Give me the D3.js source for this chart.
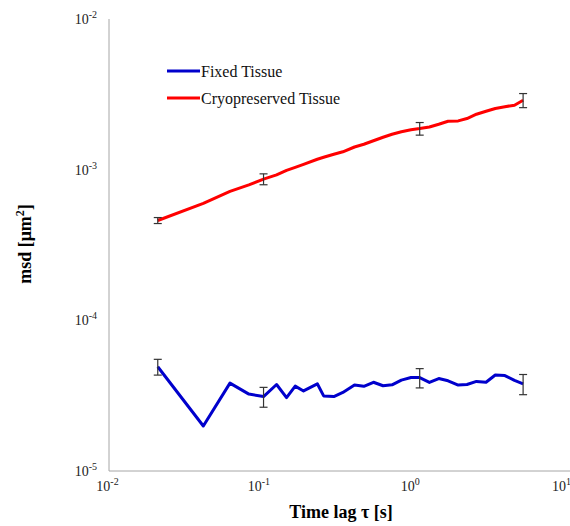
<!DOCTYPE html>
<html>
<head>
<meta charset="utf-8">
<script src="https://cdn.jsdelivr.net/npm/d3@7"></script>
<style>
  html, body { margin: 0; padding: 0; background: #fff; }
  svg { display: block; font-family: "Liberation Serif", "Times New Roman", serif; }
</style>
</head>
<body>
<svg id="chart" width="570" height="526"></svg>
<script>
// Time lag values (s), shared by both series
const lagTimes = [0.021, 0.042, 0.063, 0.084, 0.105, 0.128, 0.149, 0.170, 0.193, 0.238,
  0.262, 0.306, 0.351, 0.419, 0.483, 0.559, 0.647, 0.742, 0.855, 0.99,
  1.13, 1.31, 1.51, 1.74, 2.03, 2.32, 2.68, 3.10, 3.57, 4.13, 4.78, 5.45];

// Mean squared displacement, fixed tissue (µm²)
const fixedMsd = [4.92e-5, 1.99e-5, 3.83e-5, 3.24e-5, 3.12e-5, 3.75e-5, 3.07e-5, 3.66e-5, 3.40e-5, 3.79e-5,
  3.15e-5, 3.12e-5, 3.32e-5, 3.72e-5, 3.65e-5, 3.88e-5, 3.68e-5, 3.73e-5, 4.01e-5, 4.17e-5,
  4.17e-5, 3.87e-5, 4.11e-5, 3.97e-5, 3.72e-5, 3.75e-5, 3.93e-5, 3.88e-5, 4.34e-5, 4.30e-5, 3.99e-5, 3.79e-5];

// Mean squared displacement, cryopreserved tissue (µm²)
const cryoMsd = [4.60e-4, 5.97e-4, 7.18e-4, 7.93e-4, 8.66e-4, 9.24e-4, 9.90e-4, 1.036e-3, 1.085e-3, 1.172e-3,
  1.208e-3, 1.265e-3, 1.314e-3, 1.414e-3, 1.474e-3, 1.555e-3, 1.641e-3, 1.718e-3, 1.786e-3, 1.841e-3,
  1.875e-3, 1.921e-3, 2.002e-3, 2.097e-3, 2.107e-3, 2.185e-3, 2.333e-3, 2.443e-3, 2.547e-3, 2.618e-3, 2.679e-3, 2.89e-3];

// Error bars: index into the series and the ± half-width
const errIndex = [0, 4, 20, 31];
const fixedErr = [0.59e-5, 0.47e-5, 0.61e-5, 0.58e-5];
const cryoErr = [0.21e-4, 0.72e-4, 0.18e-3, 0.31e-3];

// Axis tick exponents
const xTickExp = [-2, -1, 0, 1];
const yTickExp = [-2, -3, -4, -5];

const seriesNames = ["Fixed Tissue", "Cryopreserved Tissue"];
const seriesColors = ["#0000cc", "#ff0000"];

const svg = d3.select("#chart");
const plotLeft = 109, plotRight = 563, plotTop = 19, plotBottom = 471;

const x = d3.scaleLog().domain([0.01, 10]).range([plotLeft, plotRight]);
const y = d3.scaleLog().domain([1e-5, 1e-2]).range([plotBottom, plotTop]);

// Axis lines (no tick marks)
svg.append("line").attr("x1", plotLeft).attr("x2", 570).attr("y1", plotBottom).attr("y2", plotBottom)
  .attr("stroke", "#a6a6a6").attr("stroke-width", 1);
svg.append("line").attr("x1", plotLeft).attr("x2", plotLeft).attr("y1", plotTop).attr("y2", plotBottom)
  .attr("stroke", "#a6a6a6").attr("stroke-width", 1);

// Power-of-ten tick labels
function powLabel(sel, e) {
  sel.append("tspan").text("10");
  sel.append("tspan").attr("dy", -6).attr("font-size", 10).text(e < 0 ? "-" + (-e) : String(e));
}
yTickExp.forEach(e => {
  const t = svg.append("text").attr("x", 97).attr("y", y(Math.pow(10, e)) + 5)
    .attr("text-anchor", "end").attr("font-size", 14).attr("fill", "#222");
  powLabel(t, e);
});
xTickExp.forEach(e => {
  const t = svg.append("text").attr("x", x(Math.pow(10, e)) - 1.5).attr("y", 491)
    .attr("text-anchor", "middle").attr("font-size", 14).attr("fill", "#222");
  powLabel(t, e);
});

// Axis titles
svg.append("text").attr("x", 341).attr("y", 518).attr("text-anchor", "middle")
  .attr("font-size", 18).attr("font-weight", "bold").text("Time lag τ [s]");
const yt = svg.append("text").attr("transform", "translate(31,244) rotate(-90)")
  .attr("text-anchor", "middle").attr("font-size", 18).attr("font-weight", "bold");
yt.append("tspan").text("msd [μm");
yt.append("tspan").attr("dy", -7).attr("font-size", 12).text("2");
yt.append("tspan").attr("dy", 7).text("]");

// Series lines
const line = d3.line().x(d => x(d[0])).y(d => y(d[1]));
[fixedMsd, cryoMsd].forEach((vals, i) => {
  svg.append("path").datum(lagTimes.map((t, k) => [t, vals[k]]))
    .attr("d", line).attr("fill", "none")
    .attr("stroke", seriesColors[i]).attr("stroke-width", 3)
    .attr("stroke-linejoin", "round");
});

// Error bars
[[fixedMsd, fixedErr], [cryoMsd, cryoErr]].forEach(([vals, errs]) => {
  errIndex.forEach((k, j) => {
    const cx = x(lagTimes[k]);
    const y1 = y(vals[k] + errs[j]), y2 = y(vals[k] - errs[j]);
    const g = svg.append("g").attr("stroke", "#333").attr("stroke-width", 1.2);
    g.append("line").attr("x1", cx).attr("x2", cx).attr("y1", y1).attr("y2", y2);
    g.append("line").attr("x1", cx - 4).attr("x2", cx + 4).attr("y1", y1).attr("y2", y1);
    g.append("line").attr("x1", cx - 4).attr("x2", cx + 4).attr("y1", y2).attr("y2", y2);
  });
});

// Legend
seriesNames.forEach((name, i) => {
  const ly = 71 + i * 27;
  svg.append("line").attr("x1", 167).attr("x2", 200).attr("y1", ly).attr("y2", ly)
    .attr("stroke", seriesColors[i]).attr("stroke-width", 3);
  svg.append("text").attr("x", 201).attr("y", ly + 5.5).attr("font-size", 16)
    .attr("fill", "#111").text(name);
});
</script>
</body>
</html>
